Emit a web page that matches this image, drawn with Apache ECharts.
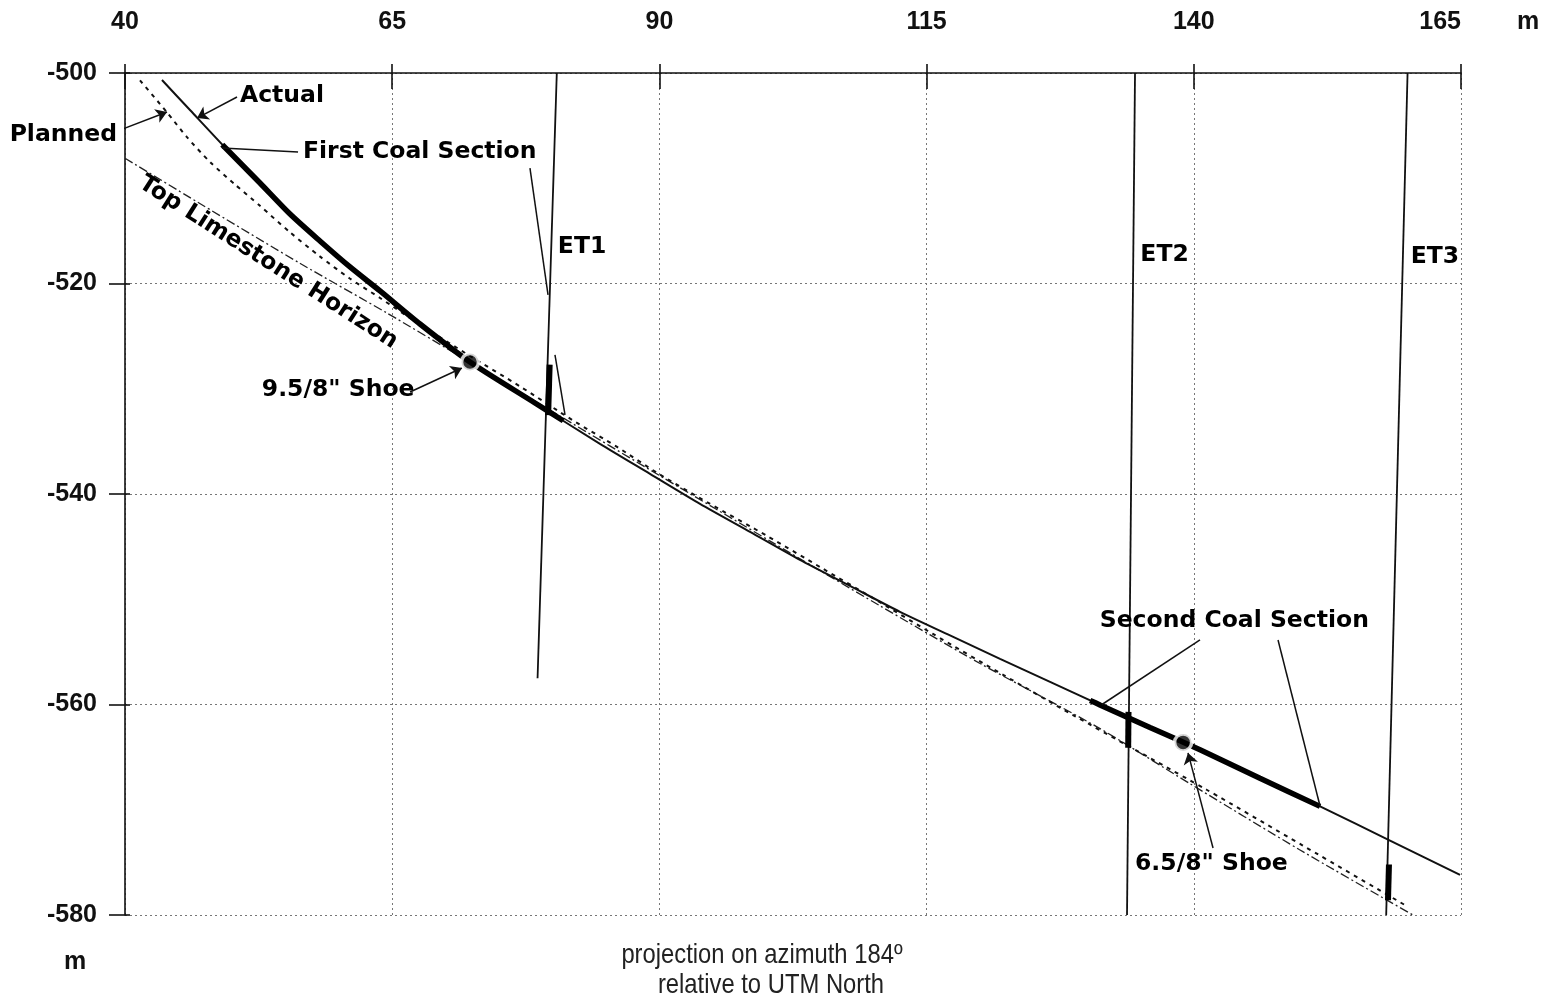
<!DOCTYPE html>
<html><head><meta charset="utf-8">
<script src="https://cdn.jsdelivr.net/npm/echarts@6/dist/echarts.min.js"></script>
<style>html,body{margin:0;padding:0;background:#fff}#c{width:1554px;height:999px}</style>
</head><body><div id="c"></div>
<script>
// ---- axis ranges ----
const xRange = [40, 165, 25];
const yRange = [-580, -500, 20];

// ---- well trajectories ----
const actual = [[43.46,-500.67],[46.08,-503.52],[49.36,-507.08],[52.63,-510.45],[55.44,-513.40],[58.24,-515.96],[61.05,-518.43],[63.86,-520.71],[67.60,-523.85],[72.28,-527.46],[78.36,-531.35],[84.44,-535.24],[89.12,-538.09],[93.80,-540.94],[98.48,-543.60],[103.15,-546.26],[107.83,-548.73],[112.51,-551.20],[117.19,-553.44],[121.87,-555.67],[126.55,-557.85],[131.22,-560.04],[135.90,-562.18],[140.58,-564.31],[146.19,-567.00],[151.81,-569.68],[158.36,-572.93],[164.91,-576.19]];
const planned = [[41.4,-500.7],[43.9,-503.7],[45.8,-506.1],[48.0,-508.5],[50.3,-510.6],[52.6,-512.6],[55.4,-515.1],[58.2,-517.4],[61.0,-519.5],[63.9,-521.4],[67.6,-523.9],[72.3,-526.9],[77.0,-529.8],[81.9,-533.0],[86.0,-535.5],[89.8,-538.0],[94.5,-540.8],[100.1,-544.0],[105.3,-547.1],[110.0,-549.9],[115.6,-553.3],[122.2,-557.2],[128.7,-561.0],[141.2,-568.1],[150.2,-573.4],[160.0,-579.2]];
const limestone = [[40.0,-508.1],[47.0,-512.4],[56.4,-518.1],[64.5,-522.8],[72.3,-527.5],[80.7,-532.6],[90.1,-538.3],[100.4,-544.5],[110.6,-550.6],[120.0,-556.1],[130.9,-562.1],[139.6,-567.5],[149.9,-573.8],[160.5,-580.0]];
const firstCoal = [[49.1,-506.8],[49.36,-507.08],[52.63,-510.45],[55.44,-513.40],[58.24,-515.96],[61.05,-518.43],[63.86,-520.71],[67.60,-523.85],[72.28,-527.46],[78.36,-531.35],[81.0,-533.04]];
const secondCoal = [[130.3,-559.61],[131.22,-560.04],[135.90,-562.18],[140.58,-564.31],[146.19,-567.00],[151.81,-569.68]];
const shoes = [[72.28,-527.46],[139.0,-563.6]];

// ---- exploration wells ET1..ET3 ----
const et1 = [[80.4,-500],[78.6,-557.5]];
const et2 = [[134.5,-500],[133.75,-580]];
const et3 = [[160.0,-500],[158.0,-580]];
const etCoal = [[[79.73,-527.7],[79.59,-532.5]],[[133.89,-560.7],[133.86,-564.1]],[[158.26,-575.2],[158.17,-578.6]]];

// ---- annotations ----
const annoText = ['Actual','Planned','First Coal Section','Top Limestone Horizon','ET1','ET2','ET3','9.5/8" Shoe','Second Coal Section','6.5/8" Shoe'];
const annoPos = [[50.76,-502.2],[39.25,-505.9],[56.65,-507.5],[53.4,-518.0],[80.5,-516.5],[135.0,-517.3],[160.3,-517.5],[52.8,-530.1],[131.2,-552.1],[134.5,-575.1]];
const arrowLines = [[[50.48,-502.28],[46.74,-504.28]],[[39.53,-505.42],[43.93,-503.71]],[[66.67,-530.31],[71.53,-528.03]],[[141.80,-573.63],[139.46,-564.6]]];
const leaderLines = [[[56.19,-507.51],[49.08,-507.13]],[[77.89,-509.03],[79.58,-521.09]],[[80.23,-526.79],[81.17,-532.49]],[[140.58,-553.87],[131.41,-560.0]],[[147.88,-553.87],[151.81,-569.64]]];

const annoFont = 'DejaVu Sans';
const tickFont = 'Liberation Sans, Arial, sans-serif';
const captionFont = 'Liberation Sans Narrow, Arial Narrow, Liberation Sans, sans-serif';

const chart = echarts.init(document.getElementById('c'), null, {renderer:'canvas'});

const annoData = annoText.map((t, i) => {
  const lab = {show:true, formatter:t, position:'inside', align:'left', verticalAlign:'middle',
    fontFamily:annoFont, fontWeight:'bold', fontSize:23.5, color:'#000', opacity:1};
  if (t === 'Planned') lab.align = 'right';
  if (t === 'Top Limestone Horizon') { lab.align = 'center'; lab.rotate = -32.5; }
  return {value: annoPos[i], label: lab};
});

const baseX = {type:'value', min:xRange[0], max:xRange[1], interval:xRange[2], position:'top'};
const baseY = {type:'value', min:yRange[0], max:yRange[1], interval:yRange[2], position:'left'};
const trajLine = {symbol:'none', smooth:0.25};

chart.setOption({
  animation:false,
  backgroundColor:'#fff',
  grid:{left:125, right:93, top:73, bottom:84, containLabel:false},
  xAxis:[
    Object.assign({}, baseX, {
      axisLine:{show:true, lineStyle:{color:'#111', width:1.6}},
      axisTick:{show:true, inside:false, length:9, lineStyle:{color:'#111', width:1.6}},
      axisLabel:{show:true, margin:38, fontFamily:tickFont, fontWeight:'bold', fontSize:25, color:'#111', alignMaxLabel:'right'},
      splitLine:{show:true, lineStyle:{color:'#777', width:1, type:[2,3]}}
    }),
    Object.assign({}, baseX, {
      axisLine:{show:false}, axisLabel:{show:false}, splitLine:{show:false},
      axisTick:{show:true, inside:true, length:16, lineStyle:{color:'#111', width:1.6}}
    })
  ],
  yAxis:[
    Object.assign({}, baseY, {
      axisLine:{show:true, lineStyle:{color:'#111', width:1.6}},
      axisTick:{show:true, inside:false, length:16, lineStyle:{color:'#111', width:1.6}},
      axisLabel:{show:true, margin:28, fontFamily:tickFont, fontWeight:'bold', fontSize:25, color:'#111'},
      splitLine:{show:true, lineStyle:{color:'#777', width:1, type:[2,3]}}
    }),
    Object.assign({}, baseY, {
      axisLine:{show:false}, axisLabel:{show:false}, splitLine:{show:false},
      axisTick:{show:true, inside:true, length:5, lineStyle:{color:'#111', width:1.6}}
    })
  ],
  graphic:[
    {type:'text', left:1517, top:10, style:{text:'m', fontFamily:tickFont, fontWeight:'bold', fontSize:25, fill:'#111'}},
    {type:'text', left:64, top:950, style:{text:'m', fontFamily:tickFont, fontWeight:'bold', fontSize:25, fill:'#111'}},
    {type:'text', x:762, y:955, scaleX:0.85, style:{text:'projection on azimuth 184º', align:'center', verticalAlign:'middle', fontFamily:captionFont, fontSize:28, fill:'#222'}},
    {type:'text', x:771, y:985, scaleX:0.85, style:{text:'relative to UTM North', align:'center', verticalAlign:'middle', fontFamily:captionFont, fontSize:28, fill:'#222'}}
  ],
  series:[
    Object.assign({type:'line', name:'Top Limestone', data:limestone, z:2,
      lineStyle:{color:'#222', width:1.3, type:[9,3,2,3]}}, trajLine),
    Object.assign({type:'line', name:'Planned', data:planned, z:3,
      lineStyle:{color:'#111', width:2, type:[4,5]}}, trajLine),
    Object.assign({type:'line', name:'Actual', data:actual, z:4,
      lineStyle:{color:'#111', width:2}}, trajLine),
    Object.assign({type:'line', name:'First Coal', data:firstCoal, z:5,
      lineStyle:{color:'#000', width:5.5}}, trajLine),
    Object.assign({type:'line', name:'Second Coal', data:secondCoal, z:5,
      lineStyle:{color:'#000', width:5.5}}, trajLine),
    {type:'line', name:'ET1', data:et1, symbol:'none', z:6, lineStyle:{color:'#111', width:1.8}},
    {type:'line', name:'ET2', data:et2, symbol:'none', z:6, lineStyle:{color:'#111', width:1.8}},
    {type:'line', name:'ET3', data:et3, symbol:'none', z:6, lineStyle:{color:'#111', width:1.8}},
    {type:'lines', coordinateSystem:'cartesian2d', z:7, symbol:['none','none'],
      lineStyle:{color:'#000', width:6, opacity:1, cap:'butt'},
      data: etCoal.map(c => ({coords:c}))},
    {type:'lines', coordinateSystem:'cartesian2d', z:7, symbol:['none','none'],
      lineStyle:{color:'#111', width:1.5, opacity:1},
      data: leaderLines.map(c => ({coords:c}))},
    {type:'lines', coordinateSystem:'cartesian2d', z:7, symbol:['none','arrow'], symbolSize:11,
      lineStyle:{color:'#111', width:1.5, opacity:1},
      data: arrowLines.map(c => ({coords:c}))},
    {type:'scatter', name:'Shoe', data:shoes, symbol:'circle', symbolSize:17, z:8,
      itemStyle:{color:'#000', borderColor:'#fff', borderWidth:3.5}},
    {type:'scatter', name:'labels', data:annoData, symbol:'circle', symbolSize:1, z:9, clip:false,
      itemStyle:{color:'rgba(255,255,255,0)'}, silent:true}
  ]
});
</script>
</body></html>
